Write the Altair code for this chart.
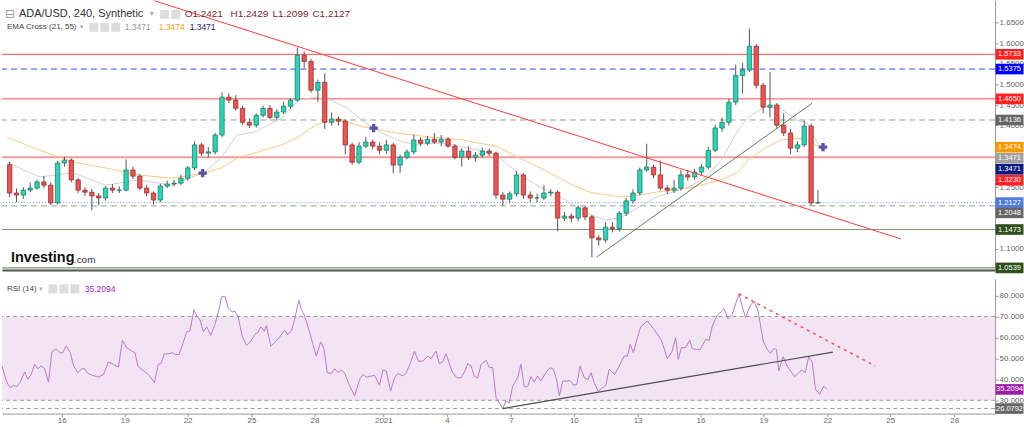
import altair as alt
import pandas as pd
import numpy as np

FONT = "Liberation Sans"
W = 995
HM = 270
HR = 135

# ---------------- data ----------------
first_open = 1.305
start_u = 13.25
step_u = 1 / 3

closes = [1.236, 1.231, 1.243, 1.248, 1.263, 1.255, 1.212, 1.309, 1.316, 1.268,
          1.243, 1.238, 1.229, 1.224, 1.248, 1.243, 1.243, 1.292, 1.277, 1.248,
          1.236, 1.219, 1.253, 1.258, 1.260, 1.272, 1.297, 1.353, 1.333, 1.336,
          1.377, 1.469, 1.462, 1.442, 1.408, 1.401, 1.425, 1.442, 1.420, 1.433,
          1.447, 1.462, 1.571, 1.556, 1.486, 1.505, 1.408, 1.416, 1.411, 1.353,
          1.311, 1.350, 1.360, 1.350, 1.340, 1.353, 1.304, 1.323, 1.336, 1.365,
          1.357, 1.367, 1.360, 1.367, 1.350, 1.323, 1.338, 1.323, 1.328, 1.338,
          1.333, 1.231, 1.221, 1.234, 1.280, 1.231, 1.224, 1.224, 1.236, 1.238,
          1.175, 1.180, 1.175, 1.200, 1.178, 1.127, 1.122, 1.153, 1.149, 1.187,
          1.217, 1.236, 1.292, 1.299, 1.280, 1.248, 1.243, 1.248, 1.280, 1.275,
          1.287, 1.299, 1.340, 1.394, 1.408, 1.457, 1.522, 1.535, 1.593, 1.498,
          1.445, 1.450, 1.401, 1.382, 1.345, 1.353, 1.399, 1.212, 1.2127]
highs = [1.312, 1.247, 1.250, 1.262, 1.268, 1.277, 1.262, 1.314, 1.324, 1.320,
         1.272, 1.250, 1.246, 1.236, 1.253, 1.258, 1.252, 1.318, 1.300, 1.282,
         1.256, 1.240, 1.258, 1.266, 1.268, 1.280, 1.302, 1.362, 1.358, 1.348,
         1.382, 1.481, 1.479, 1.474, 1.448, 1.418, 1.430, 1.448, 1.450, 1.440,
         1.458, 1.467, 1.590, 1.580, 1.562, 1.512, 1.527, 1.432, 1.422, 1.415,
         1.358, 1.360, 1.372, 1.366, 1.358, 1.365, 1.358, 1.330, 1.342, 1.378,
         1.372, 1.375, 1.382, 1.377, 1.372, 1.355, 1.345, 1.350, 1.336, 1.346,
         1.344, 1.337, 1.238, 1.240, 1.290, 1.284, 1.240, 1.234, 1.255, 1.245,
         1.242, 1.190, 1.186, 1.206, 1.204, 1.183, 1.133, 1.165, 1.165, 1.192,
         1.224, 1.245, 1.298, 1.356, 1.305, 1.315, 1.255, 1.268, 1.292, 1.292,
         1.295, 1.306, 1.348, 1.402, 1.420, 1.465, 1.548, 1.552, 1.636, 1.598,
         1.505, 1.530, 1.455, 1.430, 1.392, 1.362, 1.412, 1.405, 1.2429]
lows = [1.226, 1.214, 1.222, 1.238, 1.244, 1.248, 1.207, 1.208, 1.300, 1.262,
        1.236, 1.229, 1.194, 1.206, 1.218, 1.236, 1.236, 1.240, 1.270, 1.243,
        1.228, 1.208, 1.214, 1.248, 1.252, 1.255, 1.266, 1.292, 1.326, 1.322,
        1.330, 1.372, 1.455, 1.436, 1.402, 1.394, 1.395, 1.420, 1.415, 1.414,
        1.428, 1.440, 1.458, 1.540, 1.480, 1.458, 1.392, 1.400, 1.400, 1.330,
        1.305, 1.306, 1.345, 1.342, 1.330, 1.332, 1.284, 1.285, 1.318, 1.330,
        1.350, 1.352, 1.355, 1.350, 1.346, 1.318, 1.300, 1.316, 1.312, 1.322,
        1.326, 1.222, 1.205, 1.212, 1.228, 1.222, 1.214, 1.214, 1.219, 1.228,
        1.143, 1.168, 1.165, 1.168, 1.170, 1.080, 1.108, 1.115, 1.140, 1.142,
        1.180, 1.210, 1.230, 1.288, 1.272, 1.242, 1.234, 1.236, 1.242, 1.266,
        1.268, 1.280, 1.294, 1.335, 1.385, 1.400, 1.450, 1.478, 1.530, 1.490,
        1.430, 1.420, 1.392, 1.375, 1.330, 1.335, 1.348, 1.205, 1.2099]

ema_u = [13.12, 14.71, 16.34, 17.93, 19.51, 21.15, 22.74, 23.55, 24.32, 25.14,
         26.49, 27.30, 28.12, 28.89, 29.71, 30.52, 31.29, 32.11, 32.93, 33.70,
         34.51, 35.33, 36.10, 36.92, 38.26, 39.08, 39.90, 40.67, 41.49, 42.30,
         43.07, 43.89, 44.71, 45.48, 46.29, 47.11, 47.88, 48.70, 49.18, 50.00,
         50.76, 51.58, 52.06, 52.69]
ema21 = [1.311, 1.275, 1.285, 1.255, 1.268, 1.255, 1.287, 1.323, 1.377, 1.384,
         1.418, 1.462, 1.469, 1.462, 1.442, 1.408, 1.384, 1.365, 1.353, 1.357,
         1.357, 1.348, 1.340, 1.328, 1.275, 1.250, 1.231, 1.207, 1.183, 1.170,
         1.178, 1.202, 1.226, 1.238, 1.250, 1.275, 1.316, 1.389, 1.420, 1.445,
         1.442, 1.413, 1.406, 1.3471]
ema55 = [1.372, 1.340, 1.311, 1.297, 1.280, 1.272, 1.285, 1.297, 1.321, 1.333,
         1.353, 1.372, 1.401, 1.413, 1.408, 1.396, 1.389, 1.382, 1.377, 1.372,
         1.369, 1.365, 1.357, 1.350, 1.316, 1.297, 1.275, 1.255, 1.238, 1.231,
         1.226, 1.231, 1.238, 1.243, 1.248, 1.258, 1.268, 1.287, 1.316, 1.345,
         1.365, 1.369, 1.365, 1.3474]

rsi_u = [13.12, 13.36, 13.52, 13.68, 13.84, 14.00, 14.21, 14.37, 14.53, 14.69,
         14.85, 15.01, 15.17, 15.36, 15.52, 15.72, 15.92, 16.05, 16.21, 16.41,
         16.57, 16.77, 16.97, 17.09, 17.25, 17.48, 17.77, 18.01, 18.25, 18.49,
         18.73, 18.92, 19.13, 19.37, 19.53, 19.66, 19.88, 20.17, 20.46, 20.65,
         20.78, 20.94, 21.13, 21.33, 21.49, 21.65, 21.85, 22.01, 22.17, 22.37,
         22.50, 22.66, 22.82, 22.98, 23.18, 23.38, 23.57, 23.70, 23.86, 24.02,
         24.21, 24.34, 24.50, 24.69, 24.90, 25.11, 25.30, 25.46, 25.59, 25.75,
         25.86, 26.07, 26.26, 26.47, 26.74, 26.87, 27.06, 27.22, 27.42, 27.54,
         27.70, 27.90, 28.10, 28.26, 28.47, 28.63, 28.79, 28.99, 29.15, 29.31,
         29.47, 29.63, 29.87, 30.11, 30.35, 30.51, 30.67, 30.91, 31.07, 31.31,
         31.47, 31.63, 31.84, 32.03, 32.19, 32.43, 32.59, 32.80, 32.99, 33.18,
         33.39, 33.63, 33.79, 34.03, 34.19, 34.35, 34.51, 34.67, 34.83, 35.04,
         35.24, 35.40, 35.56, 35.72, 35.88, 36.04, 36.20, 36.44, 36.60, 36.76,
         36.92, 37.08, 37.24, 37.40, 37.56, 37.72, 37.96, 38.12, 38.28, 38.44,
         38.60, 38.76, 38.92, 39.08, 39.32, 39.53, 39.69, 39.85, 39.97, 40.13,
         40.33, 40.49, 40.65, 40.81, 40.97, 41.17, 41.36, 41.49, 41.65, 41.84,
         42.00, 42.21, 42.37, 42.64, 42.93, 43.09, 43.25, 43.38, 43.54, 43.73,
         43.89, 44.21, 44.53, 44.89, 45.17, 45.41, 45.57, 45.70, 45.85, 46.05,
         46.25, 46.38, 46.62, 46.74, 47.02, 47.18, 47.34, 47.55, 47.90, 48.09,
         48.30, 48.62, 48.78, 48.94, 49.15, 49.34, 49.50, 49.58, 49.79, 49.98,
         50.14, 50.30, 50.43, 50.54, 50.75, 50.94, 51.30, 51.50, 51.66, 51.82,
         51.98, 52.15, 52.31, 52.51, 52.71, 52.87]
rsi_v = [46.4, 38.4, 36.0, 37.2, 36.5, 38.7, 43.5, 40.0, 42.4, 47.2,
         45.1, 46.4, 45.1, 38.7, 53.0, 54.6, 52.7, 52.7, 55.9, 52.7,
         46.4, 43.2, 45.1, 45.1, 42.9, 41.9, 41.1, 42.4, 48.3, 47.2,
         45.9, 58.6, 55.1, 53.5, 52.7, 46.4, 44.5, 42.4, 38.4, 47.2,
         47.6, 52.2, 52.2, 52.7, 51.9, 51.9, 57.5, 62.6, 63.1, 73.3,
         70.2, 68.3, 62.7, 65.1, 61.1, 66.2, 73.3, 79.4, 79.7, 74.1,
         72.1, 72.6, 69.7, 60.7, 56.2, 58.3, 61.4, 62.6, 65.1, 63.0,
         65.7, 55.9, 57.5, 59.9, 63.5, 61.4, 63.1, 68.6, 77.8, 73.3,
         70.2, 63.8, 56.7, 51.1, 57.9, 54.6, 43.2, 42.9, 45.1, 43.2,
         44.5, 42.9, 36.8, 32.1, 40.0, 42.4, 41.1, 41.6, 41.9, 37.2,
         44.5, 44.0, 34.4, 40.8, 42.9, 41.6, 43.2, 47.9, 53.5, 48.7,
         48.7, 51.1, 49.9, 53.5, 47.5, 48.3, 52.2, 47.5, 43.2, 40.8,
         40.8, 43.5, 47.5, 46.4, 41.3, 40.8, 47.2, 49.1, 45.6, 45.6,
         31.3, 28.9, 26.05, 29.7, 28.9, 36.8, 40.8, 47.2, 36.5, 36.5,
         41.3, 38.7, 41.6, 39.2, 43.2, 45.6, 44.8, 39.2, 32.1, 39.2,
         39.2, 39.5, 37.2, 37.6, 46.4, 40.8, 40.0, 43.2, 38.4, 34.4,
         35.6, 37.2, 44.8, 42.4, 47.9, 51.1, 51.1, 56.7, 52.7, 59.9,
         65.1, 67.8, 63.8, 58.7, 49.9, 53.5, 59.9, 49.5, 55.1, 55.1,
         58.7, 54.6, 54.3, 54.0, 59.1, 58.6, 65.4, 70.2, 73.7, 68.9,
         71.0, 80.8, 74.9, 69.4, 74.9, 77.3, 74.1, 70.5, 58.3, 54.3,
         52.4, 54.6, 54.3, 44.0, 50.8, 46.4, 41.3, 43.2, 44.5, 43.2,
         50.8, 48.3, 35.3, 32.9, 36.8, 35.2094]

# horizontal levels and their axis tags
level_values = [1.5733, 1.5375, 1.4650, 1.4136, 1.3230, 1.2127, 1.2048, 1.1473, 1.0539]
ema_tags = [1.3474, 1.3471, 1.3471]
cross_u = [22.64, 30.96, 52.83]
cross_p = [1.2845, 1.3937, 1.3476]
red_trend_u = [20.24, 56.63]
red_trend_p = [1.7044, 1.1243]
green_trend_u = [41.82, 52.30]
green_trend_p = [1.0806, 1.4544]
rsi_up_u = [37.24, 53.15]
rsi_up_v = [26.05, 53.0]
rsi_dn_u = [48.62, 55.19]
rsi_dn_v = [80.8, 46.4]
rsi_band = [30, 70]
rsi_low_level = 26.0792
rsi_last = 35.2094

tick_u = [16.0, 19.03, 22.06, 25.14, 28.17, 31.49, 34.56, 37.64, 40.67, 43.74, 46.77, 49.8, 52.88, 55.91, 58.99]
tick_lab = ["16", "19", "22", "25", "28", "2021", "4", "7", "10", "13", "16", "19", "22", "25", "28"]
price_ticks = [1.10, 1.25, 1.40, 1.45, 1.50, 1.55, 1.60, 1.65]
rsi_ticks = [30, 40, 50, 60, 70, 80]

# ---------------- tables ----------------
opens = [first_open] + closes[:-1]
cu = [start_u + i * step_u for i in range(len(closes))]
candles = pd.DataFrame({"u": cu, "o": opens, "c": closes, "h": highs, "l": lows})
candles["dir"] = np.where(candles["c"] >= candles["o"], "up", "down")
ema = pd.DataFrame({"u": ema_u, "e21": ema21, "e55": ema55})
rsi = pd.DataFrame({"u": rsi_u, "r": rsi_v})

xs = alt.Scale(domain=[13.12, 60.96], nice=False, zero=False)
ys = alt.Scale(domain=[1.0491, 1.7044], nice=False, zero=False)
rs = alt.Scale(domain=[23.67, 87.95], nice=False, zero=False)

x_axis_main = alt.Axis(labels=False, ticks=False, domain=True, domainColor="#555555",
                       domainWidth=2, grid=False, title=None)
label_expr = ("[" + ",".join("'%s'" % s for s in tick_lab) + "][indexof(["
              + ",".join(str(v) for v in tick_u) + "], datum.value)]")
x_axis_rsi = alt.Axis(values=tick_u, labelExpr=label_expr, labelFont=FONT, labelFontSize=8,
                      labelColor="#666666", tickSize=3, tickColor="#999999", domainColor="#999999",
                      grid=False, title=None, labelPadding=0, labelOverlap=False, labelFlush=False)
y_axis_main = alt.Axis(orient="right", values=price_ticks, format=".4f", labelFont=FONT,
                       labelFontSize=8, labelColor="#666666", tickSize=3, tickColor="#999999",
                       domainColor="#999999", labelPadding=1, grid=False, title=None)
y_axis_rsi = alt.Axis(orient="right", values=rsi_ticks, format=".3f", labelFont=FONT,
                      labelFontSize=8, labelColor="#666666", tickSize=3, tickColor="#999999",
                      domainColor="#999999", labelPadding=1, grid=False, title=None)

XM = alt.X("u:Q", scale=xs, axis=x_axis_main)
XR = alt.X("u:Q", scale=xs, axis=x_axis_rsi)


def YM(f):
    return alt.Y(f + ":Q", scale=ys, axis=y_axis_main)


def YR(f):
    return alt.Y(f + ":Q", scale=rs, axis=y_axis_rsi)


ONE = pd.DataFrame({"k": [0]})


def txt(s, x, y, color, size, weight="normal", font=FONT):
    return alt.Chart(ONE).mark_text(text=s, align="left", baseline="middle", fontSize=size,
                                    color=color, font=font, fontWeight=weight).encode(
        x=alt.value(x), y=alt.value(y))


def icon(x, y):
    return alt.Chart(ONE).mark_point(shape="square", size=81, filled=True, color="#dddddd",
                                     opacity=1).encode(x=alt.value(x), y=alt.value(y))


BOX = "M-1,-0.38L1,-0.38L1,0.38L-1,0.38Z"


def tag(v, s, color, yfn, shift=0):
    d = alt.Chart(pd.DataFrame({"p": [v]}))
    box = d.mark_point(shape=BOX, size=784, filled=True, opacity=1, color=color,
                       strokeWidth=0, yOffset=shift).encode(x=alt.value(1009.5), y=yfn("p"))
    t = d.mark_text(text=s, color="white", fontSize=7.5, font=FONT, align="center",
                    baseline="middle", yOffset=shift).encode(x=alt.value(1009.5), y=yfn("p"))
    return [box, t]


def hline(v, color, width, dash=None):
    kw = dict(color=color, strokeWidth=width)
    if dash:
        kw["strokeDash"] = dash
    return alt.Chart(pd.DataFrame({"p": [v]})).mark_rule(**kw).encode(y=YM("p"))


# ---------------- main panel ----------------
line_styles = [("#ff4a4a", 1, None), ("#3344ff", 1, [6, 4]), ("#ff4a4a", 1, None),
               ("#999999", 1, [6, 4]), ("#f29a9a", 2, None), ("#6f8ff0", 1, [1, 2]),
               ("#999999", 1, [6, 4]), ("#7d9673", 1.2, None), ("#7d9673", 1.2, None)]
main_layers = []
for v, (col, wdt, dsh) in zip(level_values, line_styles):
    main_layers.append(hline(v, col, wdt, dsh))

main_layers.append(alt.Chart(ema).mark_line(color="#cfcfcf", strokeWidth=1).encode(x=XM, y=YM("e21")))
main_layers.append(alt.Chart(ema).mark_line(color="#ffc680", strokeWidth=1).encode(x=XM, y=YM("e55")))

main_layers.append(alt.Chart(candles).mark_rule(color="#555555", strokeWidth=1).encode(
    x=XM, y=YM("l"), y2="h"))
main_layers.append(alt.Chart(candles).mark_bar(width=4.4, strokeWidth=0.7).encode(
    x=XM, y=YM("o"), y2="c",
    color=alt.Color("dir:N", scale=alt.Scale(domain=["up", "down"], range=["#2ad4b6", "#ef5350"]), legend=None),
    stroke=alt.Stroke("dir:N", scale=alt.Scale(domain=["up", "down"], range=["#13705f", "#8a2626"]), legend=None)))

main_layers.append(alt.Chart(pd.DataFrame({"u": red_trend_u, "p": red_trend_p})).mark_line(
    color="#ff3b3b", strokeWidth=1, clip=True).encode(x=XM, y=YM("p")))
main_layers.append(alt.Chart(pd.DataFrame({"u": green_trend_u, "p": green_trend_p})).mark_line(
    color="#5f7f4f", strokeWidth=1).encode(x=XM, y=YM("p")))
main_layers.append(alt.Chart(pd.DataFrame({"u": cross_u, "p": cross_p})).mark_point(
    shape="cross", filled=True, size=70, color="#5757a8", opacity=1).encode(x=XM, y=YM("p")))

# legend texts
main_layers += [
    txt("\u229f", 3, 14, "#999999", 12, font="DejaVu Sans"),
    txt("ADA/USD, 240, Synthetic", 17, 14, "#333333", 11),
    txt("\u25be", 148, 14, "#aaaaaa", 8, font="DejaVu Sans"),
    icon(163, 14), icon(174, 14),
    txt("O1.2421", 183, 14, "#7d2a2a", 10),
    txt("H1.2429", 229, 14, "#7d2a2a", 10),
    txt("L1.2099", 271, 14, "#7d2a2a", 10),
    txt("C1.2127", 311, 14, "#7d2a2a", 10),
    txt("EMA Cross (21, 55)", 5, 27, "#444444", 8),
    txt("\u25be", 78, 27, "#aaaaaa", 7, font="DejaVu Sans"),
    icon(92, 27), icon(103, 27), icon(114, 27),
    txt("1.3471", 123, 27, "#9a9a9a", 8.5),
    txt("1.3474", 157, 27, "#ff9800", 8.5),
    txt("1.3471", 188, 27, "#1a237e", 8.5),
    txt("Investing", 9, 258, "#111111", 14.5, weight="bold"),
    txt(".com", 72, 260, "#333333", 10),
]

tag_colors = ["#ff2020", "#0000ff", "#ff2020", "#666666", "#ff2020", "#4f7bdc", "#666666", "#2d4f1b", "#2d4f1b"]
tag_shift = [0, 0, 0, 0, 23, 0, 7, 0, 0]
for v, col, sh in zip(level_values, tag_colors, tag_shift):
    main_layers += tag(v, "%.4f" % v, col, YM, sh)
for v, col, sh in zip(ema_tags, ["#ff9800", "#a0a0a0", "#0d1a80"], [0, 11, 22]):
    main_layers += tag(v, "%.4f" % v, col, YM, sh)

main = alt.layer(*main_layers).properties(width=W, height=HM)

# ---------------- RSI panel ----------------
rsi_layers = [
    alt.Chart(pd.DataFrame({"lo": [rsi_band[0]], "hi": [rsi_band[1]]})).mark_rect(
        color="#f2e4f3", opacity=1).encode(x=alt.value(0), x2=alt.value(W), y=YR("hi"), y2="lo"),
]
for v in rsi_band + [rsi_low_level]:
    rsi_layers.append(alt.Chart(pd.DataFrame({"r": [v]})).mark_rule(
        color="#9e9e9e", strokeDash=[4, 3], strokeWidth=1).encode(y=YR("r")))
rsi_layers.append(alt.Chart(rsi).mark_line(color="#bb77cc", strokeWidth=1).encode(x=XR, y=YR("r")))
rsi_layers.append(alt.Chart(pd.DataFrame({"u": rsi_up_u, "r": rsi_up_v})).mark_line(
    color="#4d4d4d", strokeWidth=1.2).encode(x=XR, y=YR("r")))
rsi_layers.append(alt.Chart(pd.DataFrame({"u": rsi_dn_u, "r": rsi_dn_v})).mark_line(
    color="#ff4d4d", strokeWidth=1.5, strokeDash=[3, 4]).encode(x=XR, y=YR("r")))
rsi_layers += [
    txt("RSI (14)", 5, 10, "#444444", 8),
    txt("\u25be", 37, 10, "#aaaaaa", 7, font="DejaVu Sans"),
    icon(51, 10), icon(62, 10), icon(73, 10),
    txt("35.2094", 83, 10, "#9c27b0", 8.5),
]
rsi_layers += tag(rsi_last, "35.2094", "#9c1ea8", YR)
rsi_layers += tag(rsi_low_level, "26.0792", "#666666", YR)

rsi_chart = alt.layer(*rsi_layers).properties(width=W, height=HR)

chart = alt.vconcat(main, rsi_chart, spacing=5, padding=0).properties(
    background="white").configure_view(stroke=None)

chart.save("out.html", embed_options={"renderer": "svg", "actions": False})
